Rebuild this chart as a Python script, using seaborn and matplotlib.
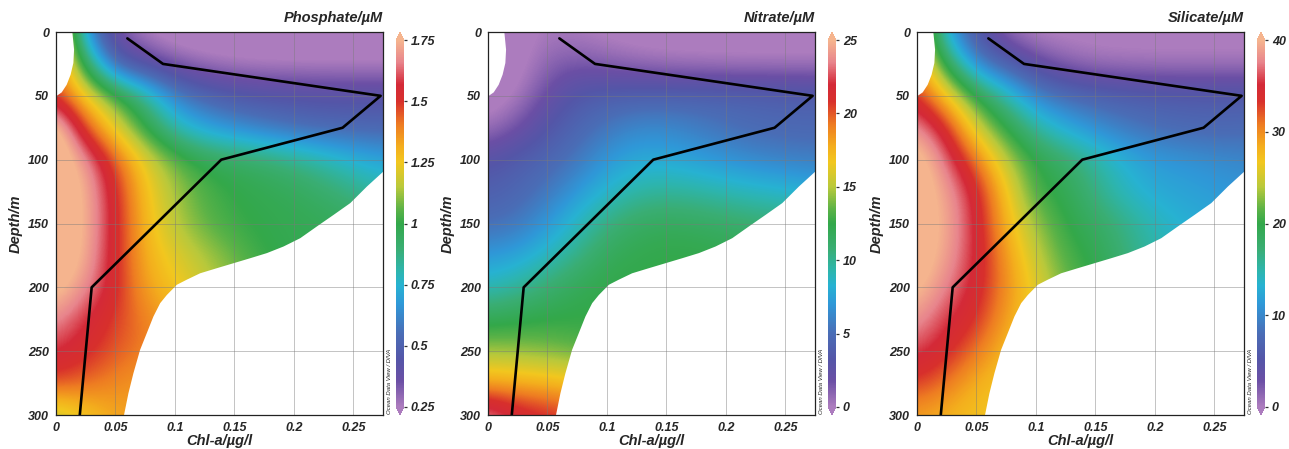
import numpy as np
import matplotlib
matplotlib.use("Agg")
import matplotlib.pyplot as plt
import seaborn as sns
from matplotlib.colors import LinearSegmentedColormap, Normalize
from matplotlib.cm import ScalarMappable
from matplotlib.patches import Polygon
from matplotlib.ticker import MultipleLocator

# ---------------- data ----------------
chl_nodes = [0, 0.025, 0.05, 0.075, 0.1, 0.125, 0.15, 0.175, 0.2, 0.225, 0.25, 0.275]
depth_nodes = [0, 25, 50, 75, 100, 125, 150, 175, 200, 225, 250, 275, 300]

phosphate_grid = [
    [1.45, 0.65, 0.33, 0.24, 0.20, 0.20, 0.20, 0.20, 0.20, 0.20, 0.20, 0.20],
    [1.45, 0.95, 0.50, 0.40, 0.32, 0.27, 0.25, 0.24, 0.24, 0.24, 0.24, 0.24],
    [1.50, 1.25, 1.05, 0.85, 0.62, 0.52, 0.47, 0.45, 0.44, 0.43, 0.43, 0.43],
    [1.85, 1.46, 1.22, 1.00, 0.80, 0.70, 0.64, 0.59, 0.55, 0.53, 0.52, 0.52],
    [1.85, 1.70, 1.45, 1.22, 1.07, 0.98, 0.95, 0.92, 0.87, 0.81, 0.75, 0.70],
    [1.85, 1.75, 1.52, 1.27, 1.13, 1.04, 1.00, 0.98, 0.96, 0.92, 0.87, 0.82],
    [1.85, 1.75, 1.53, 1.29, 1.15, 1.06, 1.01, 0.99, 0.98, 0.97, 0.95, 0.92],
    [1.85, 1.74, 1.52, 1.31, 1.22, 1.14, 1.07, 1.00, 0.98, 0.97, 0.95, 0.92],
    [1.80, 1.68, 1.52, 1.34, 1.26, 1.18, 1.10, 1.05, 1.00, 1.00, 1.00, 1.00],
    [1.68, 1.57, 1.48, 1.40, 1.32, 1.25, 1.18, 1.10, 1.05, 1.00, 1.00, 1.00],
    [1.58, 1.52, 1.45, 1.40, 1.36, 1.30, 1.25, 1.18, 1.10, 1.05, 1.00, 1.00],
    [1.47, 1.43, 1.38, 1.35, 1.33, 1.30, 1.25, 1.18, 1.10, 1.05, 1.00, 1.00],
    [1.15, 1.25, 1.33, 1.35, 1.35, 1.30, 1.25, 1.18, 1.10, 1.05, 1.00, 1.00],
]

nitrate_grid = [
    [-0.5, -0.5, 0.2, 0.0, -0.3, -0.5, -0.5, -0.5, -0.5, -0.5, -0.5, -0.5],
    [-0.8, -0.5, 0.9, 1.4, 1.0, 0.6, 0.3, 0.2, 0.1, 0.1, 0.1, 0.1],
    [-0.8, 0.0, 2.0, 3.5, 4.0, 4.2, 4.3, 4.3, 4.3, 4.2, 4.1, 4.0],
    [0.3, 1.6, 3.3, 4.5, 5.5, 6.3, 6.3, 5.8, 5.2, 4.8, 4.6, 4.6],
    [3.0, 3.8, 4.5, 5.5, 7.0, 7.8, 7.8, 7.3, 6.8, 6.3, 6.0, 5.8],
    [4.0, 4.5, 5.5, 7.0, 8.5, 9.5, 9.8, 9.6, 9.2, 8.8, 8.5, 8.0],
    [5.0, 5.5, 7.0, 8.8, 10.5, 11.5, 11.8, 11.6, 11.3, 11.0, 10.8, 10.5],
    [7.0, 7.5, 8.8, 10.3, 11.8, 12.3, 12.5, 12.5, 12.3, 12.0, 12.0, 12.0],
    [9.0, 9.8, 11.0, 12.0, 12.5, 12.5, 12.5, 12.5, 12.5, 12.5, 12.5, 12.5],
    [12.0, 12.3, 12.5, 12.5, 12.5, 12.5, 12.5, 12.5, 12.5, 12.5, 12.5, 12.5],
    [14.5, 14.3, 14.0, 13.5, 13.0, 13.0, 13.0, 13.0, 13.0, 13.0, 13.0, 13.0],
    [18.0, 17.8, 17.5, 17.0, 16.5, 16.0, 16.0, 16.0, 16.0, 16.0, 16.0, 16.0],
    [24.0, 22.0, 21.3, 20.5, 20.0, 20.0, 20.0, 20.0, 20.0, 20.0, 20.0, 20.0],
]

silicate_grid = [
    [28, 12, 5, 1.0, -0.5, -0.5, -0.5, -0.5, -0.5, -0.5, -0.5, -0.5],
    [30, 19, 10, 6.5, 3.5, 1.5, 0.6, 0.4, 0.3, 0.3, 0.3, 0.3],
    [34, 27, 20, 15, 10, 8, 7, 6.5, 6.2, 6.0, 6.0, 6.0],
    [38.5, 34, 25, 20, 15.5, 12.5, 10.5, 9, 8, 7.5, 7.2, 7.5],
    [42, 37, 31, 24, 20, 18, 15.5, 13, 11.5, 11, 10.5, 10],
    [42, 39, 34.5, 27, 20.5, 19.5, 16.5, 14, 12.5, 12, 11.5, 11],
    [42, 39.5, 35, 28, 23, 20, 18.5, 16.5, 14.5, 13, 12.5, 12],
    [42, 39, 35, 29.5, 24.5, 21, 19.5, 17, 15, 14, 13.5, 13],
    [41, 37.5, 34.5, 30, 26, 22, 20, 18, 16, 15, 14, 14],
    [38.5, 35.5, 33.5, 29, 26, 23, 21, 19, 17, 16, 15, 15],
    [36, 34, 31, 27.5, 26, 24, 22, 20, 18, 17, 16, 16],
    [33, 31, 28, 27, 26, 25, 23, 21, 19, 18, 17, 17],
    [29, 28, 27, 27, 26, 25, 23, 21, 19, 18, 17, 17],
]

# Chl-a profile (black line)
profile_chl = [0.06, 0.09, 0.273, 0.241, 0.139, 0.03, 0.02]
profile_depth = [5, 25, 50, 75, 100, 200, 300]

# outline of the data-covered region (outside it the field is blank)
cover_chl = [0.0132, 0.28, 0.28, 0.2615, 0.2475, 0.2335, 0.2194, 0.2054, 0.1914,
             0.1773, 0.1633, 0.1493, 0.1353, 0.1212, 0.110, 0.1016, 0.0974, 0.0932,
             0.0876, 0.0819, 0.0763, 0.0707, 0.0651, 0.0609, 0.0572, 0.0565, -0.01,
             -0.01, 0.0, 0.0048, 0.009, 0.0123, 0.0146, 0.0152, 0.0132]
cover_depth = [-5, -5, 105.3, 121, 134, 143.2, 152.3, 161.5, 168,
               173.2, 177.2, 181.1, 185, 189, 194, 198, 202, 206,
               212.4, 222.9, 236, 249, 267.3, 283, 300, 305, 305,
               50.4, 50.4, 47.3, 41.3, 33.4, 24.3, 13.8, -5]

panels = [
    ("Phosphate/µM", phosphate_grid, 0.25, 1.75, [0.25, 0.5, 0.75, 1, 1.25, 1.5, 1.75]),
    ("Nitrate/µM", nitrate_grid, 0, 25, [0, 5, 10, 15, 20, 25]),
    ("Silicate/µM", silicate_grid, 0, 40, [0, 10, 20, 30, 40]),
]

# ---------------- style ----------------
sns.set_style("white")
plt.rcParams["font.family"] = ["Liberation Sans", "DejaVu Sans"]

odv_colors = [
    (0.00, "#AC7CBE"), (0.07, "#6B4FA5"), (0.13, "#5456A8"), (0.20, "#4A6DB6"),
    (0.28, "#2F98D8"), (0.33, "#27B2D2"), (0.37, "#2DB5AE"), (0.43, "#3AAE74"),
    (0.50, "#33A84A"), (0.54, "#5DB347"), (0.60, "#B9C93B"), (0.667, "#F2C71F"),
    (0.71, "#F4AE1D"), (0.77, "#EE7C22"), (0.833, "#D8302C"), (0.88, "#D42A38"),
    (0.94, "#E8848C"), (1.00, "#F5B48E"),
]
cmap = LinearSegmentedColormap.from_list("odv", odv_colors, N=512)
cmap.set_over("#F5B48E")
cmap.set_under("#AC7CBE")

W, H = 1289, 449
fig = plt.figure(figsize=(W / 100, H / 100), dpi=100)

ax_left_px = [56, 488, 917]
cb_left_px = [396, 828, 1257]
ax_w_px = 327
ax_top_px, ax_bot_px = 32, 415

fnt = dict(fontweight="bold", fontstyle="italic")

dx = chl_nodes[1] - chl_nodes[0]
dy = depth_nodes[1] - depth_nodes[0]

for i, (title, grid, vmin, vmax, cticks) in enumerate(panels):
    ax = fig.add_axes([ax_left_px[i] / W, (H - ax_bot_px) / H,
                       ax_w_px / W, (ax_bot_px - ax_top_px) / H])
    norm = Normalize(vmin=vmin, vmax=vmax)
    field = np.array(grid, dtype=float)
    im = ax.imshow(field, cmap=cmap, norm=norm, aspect="auto", origin="upper",
                   interpolation="bicubic", interpolation_stage="data",
                   extent=(chl_nodes[0] - dx / 2, chl_nodes[-1] + dx / 2,
                           depth_nodes[-1] + dy / 2, depth_nodes[0] - dy / 2),
                   zorder=1)
    clip = Polygon(np.column_stack([cover_chl, cover_depth]), closed=True,
                   transform=ax.transData, facecolor="none", edgecolor="none")
    im.set_clip_path(clip)

    sns.lineplot(x=profile_chl, y=profile_depth, sort=False, estimator=None,
                 color="black", linewidth=1.9, ax=ax, zorder=5)

    ax.set_xlim(0, 0.275)
    ax.set_ylim(300, 0)
    xt = [0, 0.05, 0.1, 0.15, 0.2, 0.25]
    ax.set_xticks(xt)
    ax.set_xticklabels([f"{v:g}" for v in xt], **fnt, fontsize=9)
    ax.xaxis.set_minor_locator(MultipleLocator(0.025))
    yt = [0, 50, 100, 150, 200, 250, 300]
    ax.set_yticks(yt)
    ax.set_yticklabels([str(v) for v in yt], **fnt, fontsize=9)
    ax.tick_params(axis="both", which="major", length=3, width=0.8,
                   color="#555555", direction="out", pad=2)
    ax.tick_params(axis="x", which="minor", length=2, width=0.6, color="#777777")
    ax.grid(True, which="major", color="#7a7a7a", alpha=0.45, linewidth=0.7, zorder=3)
    ax.set_axisbelow(False)
    for sp in ax.spines.values():
        sp.set_color("#222222")
        sp.set_linewidth(0.9)
        sp.set_zorder(6)
    ax.set_xlabel("Chl-a/µg/l", **fnt, fontsize=10.5, labelpad=0)
    ax.set_ylabel("Depth/m", **fnt, fontsize=10.5, labelpad=4)
    ax.set_title(title, loc="right", **fnt, fontsize=10.5, pad=7)
    ax.text(1.013, 0.003, "Ocean Data View / DIVA", transform=ax.transAxes,
            rotation=90, ha="left", va="bottom", fontsize=4.3, fontstyle="italic",
            color="#222222")

    cax = fig.add_axes([cb_left_px[i] / W, (H - ax_bot_px) / H,
                        8 / W, (ax_bot_px - ax_top_px) / H])
    cb = fig.colorbar(ScalarMappable(norm=norm, cmap=cmap), cax=cax,
                      extend="both", extendfrac=0.022)
    cb.outline.set_visible(False)
    cb.set_ticks(cticks)
    cb.set_ticklabels([f"{v:g}" for v in cticks])
    for lab in cax.get_yticklabels():
        lab.set_fontweight("bold")
        lab.set_fontstyle("italic")
        lab.set_fontsize(9)
    cax.tick_params(length=2, width=0.9, color="#333333", pad=3)

fig.savefig("out.png", dpi=100)
